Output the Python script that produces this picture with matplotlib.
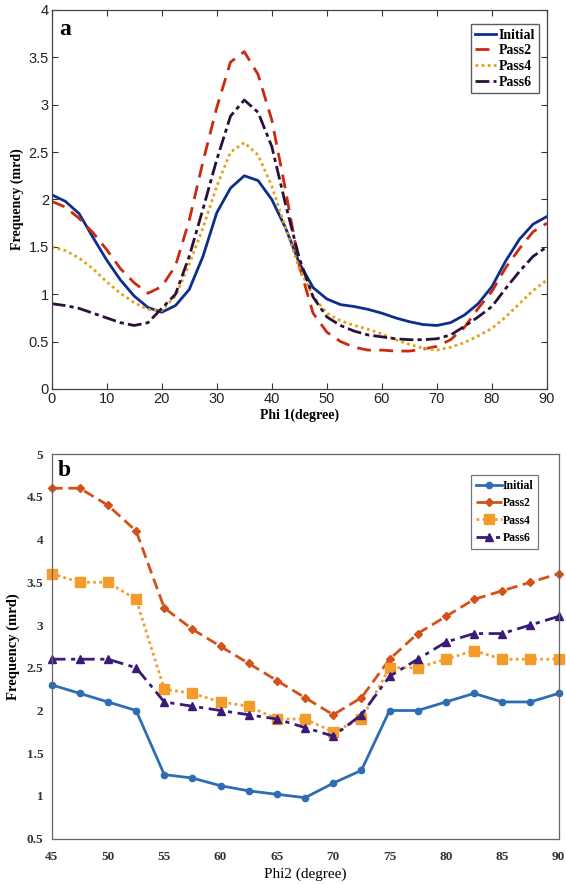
import numpy as np
import matplotlib.pyplot as plt

# panel a: Phi1 profile
phi1 = np.arange(0, 90.1, 2.5)
a_initial = [2.05, 1.98, 1.85, 1.60, 1.36, 1.15, 0.98, 0.86, 0.81, 0.88, 1.05, 1.40, 1.86,
             2.12, 2.25, 2.20, 2.00, 1.70, 1.33, 1.07, 0.95, 0.89, 0.87, 0.84, 0.80, 0.75,
             0.71, 0.68, 0.67, 0.70, 0.78, 0.90, 1.08, 1.35, 1.58, 1.74, 1.82]
a_pass2 = [1.98, 1.92, 1.80, 1.65, 1.47, 1.27, 1.12, 1.01, 1.08, 1.30, 1.78, 2.40, 2.97,
           3.45, 3.56, 3.32, 2.84, 2.10, 1.30, 0.80, 0.60, 0.50, 0.44, 0.41, 0.41, 0.40,
           0.40, 0.42, 0.45, 0.52, 0.65, 0.85, 1.03, 1.28, 1.48, 1.66, 1.75]
a_pass4 = [1.50, 1.46, 1.38, 1.27, 1.13, 1.01, 0.91, 0.84, 0.83, 0.98, 1.32, 1.70, 2.14,
           2.50, 2.60, 2.47, 2.14, 1.70, 1.27, 0.98, 0.80, 0.72, 0.67, 0.63, 0.58, 0.52,
           0.47, 0.43, 0.41, 0.44, 0.49, 0.56, 0.64, 0.76, 0.90, 1.04, 1.15]
a_pass6 = [0.90, 0.88, 0.85, 0.80, 0.75, 0.70, 0.67, 0.70, 0.85, 1.00, 1.40, 1.90, 2.42,
           2.88, 3.05, 2.92, 2.56, 1.95, 1.38, 0.97, 0.76, 0.67, 0.61, 0.57, 0.55, 0.53,
           0.52, 0.52, 0.53, 0.57, 0.66, 0.76, 0.87, 1.06, 1.24, 1.40, 1.50]

# panel b: Phi2 profile
phi2 = np.arange(45, 90.1, 2.5)
b_initial = [2.30, 2.20, 2.10, 2.00, 1.25, 1.21, 1.12, 1.06, 1.02, 0.98, 1.15, 1.30,
             2.00, 2.00, 2.10, 2.20, 2.10, 2.10, 2.20]
b_pass2 = [4.60, 4.60, 4.40, 4.10, 3.20, 2.95, 2.75, 2.55, 2.35, 2.15, 1.95, 2.15,
           2.60, 2.90, 3.10, 3.30, 3.40, 3.50, 3.60]
b_pass4 = [3.60, 3.50, 3.50, 3.30, 2.25, 2.20, 2.10, 2.05, 1.90, 1.90, 1.75, 1.90,
           2.50, 2.50, 2.60, 2.70, 2.60, 2.60, 2.60]
b_pass6 = [2.60, 2.60, 2.60, 2.50, 2.10, 2.05, 2.00, 1.95, 1.90, 1.80, 1.70, 1.95,
           2.40, 2.60, 2.80, 2.90, 2.90, 3.00, 3.10]

labels = ['Initial', 'Pass2', 'Pass4', 'Pass6']

serif = 'Liberation Serif'
sans = 'Liberation Sans'

fig = plt.figure(figsize=(5.66, 8.84), dpi=100)

# ---- top panel (MATLAB style) ----
ax1 = fig.add_axes([0.0913, 0.560, 0.875, 0.4287])
ax1.plot(phi1, a_initial, color='#0d2e8c', lw=2.0, ls='-', label=labels[0])
ax1.plot(phi1, a_pass2, color='#cc2a0e', lw=2.0, ls=(0, (5, 3)), label=labels[1])
ax1.plot(phi1, a_pass4, color='#e3a21a', lw=2.0, ls=(0, (1, 1.2)), label=labels[2])
ax1.plot(phi1, a_pass6, color='#2a1038', lw=2.0, ls=(0, (5, 1.5, 1.5, 1.5)), label=labels[3])
ax1.set_xlim(0, 90)
ax1.set_ylim(0, 4)
ax1.set_xticks(np.arange(0, 91, 10))
ax1.set_yticks(np.arange(0, 4.01, 0.5))
ax1.set_yticklabels(['0', '0.5', '1', '1.5', '2', '2.5', '3', '3.5', '4'])
ax1.tick_params(direction='in', top=True, right=True, length=4, width=0.8,
                labelsize=10.5, colors='#333333', labelcolor='#222222', pad=2)
for t in ax1.get_xticklabels() + ax1.get_yticklabels():
    t.set_fontfamily(sans)
for s in ax1.spines.values():
    s.set_color('#444444')
    s.set_linewidth(0.9)
ax1.set_xlabel('Phi 1(degree)', fontfamily=serif, fontweight='bold', fontsize=10, labelpad=2)
ax1.set_ylabel('Frequency (mrd)', fontfamily=serif, fontweight='bold', fontsize=10, labelpad=3)
ax1.text(0.015, 0.975, 'a', transform=ax1.transAxes, ha='left', va='top',
         fontfamily=serif, fontweight='bold', fontsize=17)
leg1 = ax1.legend(loc='upper right', bbox_to_anchor=(0.985, 0.962), fancybox=False,
                  edgecolor='#333333', handlelength=1.5, handletextpad=0.2,
                  borderpad=0.3, labelspacing=0.2, borderaxespad=0,
                  prop={'family': serif, 'weight': 'bold', 'size': 10})
leg1.get_frame().set_linewidth(1.0)

# ---- bottom panel (Excel style) ----
ax2 = fig.add_axes([0.0912, 0.0512, 0.8956, 0.4352])
ax2.plot(phi2, b_initial, color='#2e6db4', lw=2.0, ls='-', marker='o', ms=4.5,
         clip_on=False, label=labels[0])
ax2.plot(phi2, b_pass2, color='#d2521a', lw=2.0, ls=(0, (4, 2)), marker='D', ms=4.5,
         clip_on=False, label=labels[1])
ax2.plot(phi2, b_pass4, color='#f39b2b', lw=2.0, ls=(0, (1, 1.2)), marker='s', ms=7,
         clip_on=False, label=labels[2])
ax2.plot(phi2, b_pass6, color='#3a1c78', lw=2.0, ls=(0, (5, 2, 1.5, 2)), marker='^', ms=6,
         clip_on=False, label=labels[3])
ax2.set_xlim(45, 90)
ax2.set_ylim(0.5, 5)
ax2.set_xticks(np.arange(45, 91, 5))
ax2.set_yticks(np.arange(0.5, 5.01, 0.5))
ax2.set_yticklabels(['0.5', '1', '1.5', '2', '2.5', '3', '3.5', '4', '4.5', '5'])
ax2.tick_params(direction='out', length=0, labelsize=9.5, colors='#333333')
ax2.tick_params(axis='x', pad=9)
ax2.tick_params(axis='y', pad=6)
for t in ax2.get_xticklabels() + ax2.get_yticklabels():
    t.set_fontfamily(serif)
    t.set_fontweight('bold')
for s in ax2.spines.values():
    s.set_color('#666666')
    s.set_linewidth(0.9)
ax2.set_xlabel('Phi2 (degree)', fontfamily=serif, fontsize=11, labelpad=3)
ax2.set_ylabel('Frequency (mrd)', fontfamily=serif, fontweight='bold', fontsize=10.5, labelpad=5)
ax2.text(0.012, 0.985, 'b', transform=ax2.transAxes, ha='left', va='top',
         fontfamily=serif, fontweight='bold', fontsize=17)
leg2 = ax2.legend(loc='upper right', bbox_to_anchor=(0.96, 0.945), fancybox=False,
                  edgecolor='#555555', handlelength=2.2, handletextpad=0.1,
                  borderpad=0.4, labelspacing=0.45, borderaxespad=0,
                  prop={'family': serif, 'weight': 'bold', 'size': 8.5})
leg2.get_frame().set_linewidth(0.9)

fig.savefig('out.png', dpi=100)
